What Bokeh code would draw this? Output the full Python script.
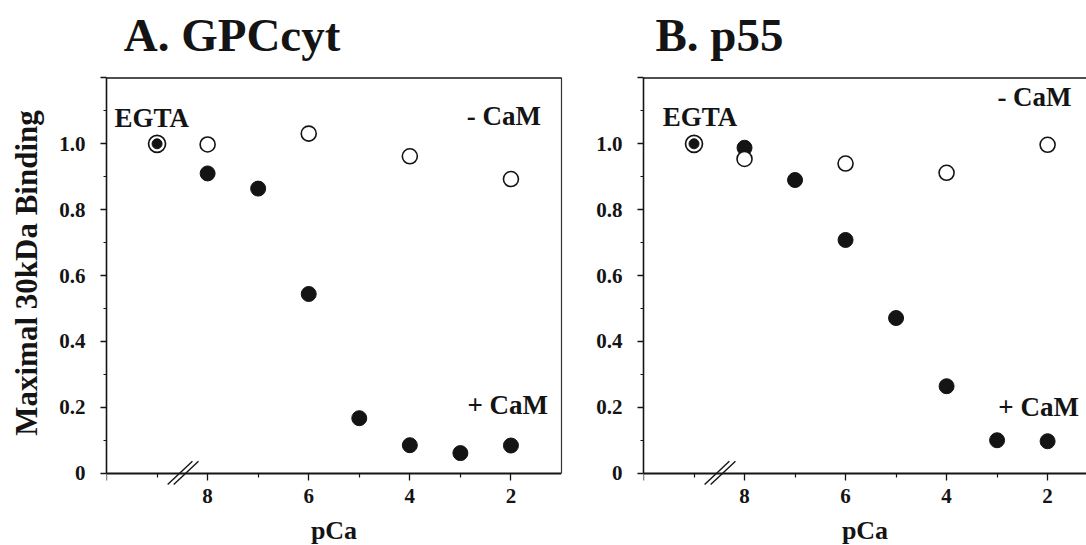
from bokeh.plotting import figure
from bokeh.layouts import row
from bokeh.models import (Range1d, FixedTicker, Label, LinearAxis, CustomJSTickFormatter)
from bokeh.embed import file_html
from bokeh.resources import INLINE

FONT = "Liberation Serif"
INK = "#141414"

# ---- data ----
x_ticks = [10, 8, 6, 4, 2]
x_tick_labels = ["", "8", "6", "4", "2"]
x_minor = [9, 7, 5, 3]
y_ticks = [0, 0.2, 0.4, 0.6, 0.8, 1.0, 1.2]
y_tick_labels = ["0", "0.2", "0.4", "0.6", "0.8", "1.0", ""]
y_minor = [0.1, 0.3, 0.5, 0.7, 0.9, 1.1]
y_top = 1.2

egta_x = [9]
a_egta = [1.0]
b_egta = [1.0]

pca_minus = [8, 6, 4, 2]
a_minus = [0.998, 1.031, 0.962, 0.893]
b_minus = [0.954, 0.94, 0.912, 0.997]

pca_plus = [8, 7, 6, 5, 4, 3, 2]
a_plus = [0.91, 0.864, 0.544, 0.167, 0.085, 0.061, 0.084]
b_plus = [0.988, 0.89, 0.708, 0.471, 0.264, 0.10, 0.097]

titles = ["A. GPCcyt", "B. p55"]
y_label = "Maximal 30kDa Binding"
x_label = "pCa"

# axis-break decoration (data coords)
BREAK_X0 = [8.79, 8.67]
BREAK_X1 = [8.30, 8.18]
BREAK_Y0 = [-0.034, -0.034]
BREAK_Y1 = [0.036, 0.036]

# visible window (frame covers the whole panel height)
Y_LO, Y_HI = -0.2195, 1.435


def fmt(vals, labs):
    return CustomJSTickFormatter(
        args=dict(tvals=vals, tlabs=labs),
        code="const i = tvals.findIndex(t => Math.abs(t - tick) < 1e-6); return i >= 0 ? tlabs[i] : '';",
    )


def panel(title, plus, minus, egta, x_end, fw, bl, br, ylab, title_x, right_border, lab_pos):
    p = figure(frame_width=fw, frame_height=545, x_range=Range1d(10, x_end),
               y_range=Range1d(Y_LO, Y_HI), output_backend="svg", toolbar_location=None,
               min_border_left=bl, min_border_right=br, min_border_top=0,
               min_border_bottom=0, background_fill_color="white",
               border_fill_color="white", outline_line_color=None)
    p.xgrid.visible = False
    p.ygrid.visible = False

    xa = p.xaxis[0]
    xa.fixed_location = 0
    xa.ticker = FixedTicker(ticks=x_ticks, minor_ticks=x_minor)
    xa.formatter = fmt(x_ticks, x_tick_labels)
    xa.axis_line_width = 2
    xa.axis_line_color = INK
    xa.major_tick_out = 7
    xa.major_tick_in = 0
    xa.minor_tick_out = 4
    xa.minor_tick_in = 0
    xa.major_tick_line_width = 1.3
    xa.minor_tick_line_width = 1.2
    xa.major_tick_line_color = INK
    xa.minor_tick_line_color = INK
    xa.major_label_standoff = 9
    xa.major_label_text_font = FONT
    xa.major_label_text_font_style = "bold"
    xa.major_label_text_font_size = "21px"
    xa.major_label_text_color = INK
    xa.axis_label = x_label
    xa.axis_label_text_font = FONT
    xa.axis_label_text_font_style = "bold"
    xa.axis_label_text_font_size = "26px"
    xa.axis_label_text_color = INK
    xa.axis_label_standoff = 9

    ya = p.yaxis[0]
    ya.bounds = (0, y_top)
    ya.ticker = FixedTicker(ticks=y_ticks, minor_ticks=y_minor)
    ya.formatter = fmt(y_ticks, y_tick_labels)
    ya.axis_line_width = 1.6
    ya.axis_line_color = INK
    ya.major_tick_out = 6
    ya.major_tick_in = 0
    ya.minor_tick_out = 3
    ya.minor_tick_in = 0
    ya.major_tick_line_width = 1.3
    ya.minor_tick_line_width = 1.2
    ya.major_tick_line_color = INK
    ya.minor_tick_line_color = INK
    ya.major_label_standoff = 15
    ya.major_label_text_font = FONT
    ya.major_label_text_font_style = "bold"
    ya.major_label_text_font_size = "21px"
    ya.major_label_text_color = INK
    if ylab:
        ya.axis_label = ylab
        ya.axis_label_text_font = FONT
        ya.axis_label_text_font_style = "bold"
        ya.axis_label_text_font_size = "31px"
        ya.axis_label_text_color = INK
        ya.axis_label_standoff = 12

    if right_border:
        rb = LinearAxis(bounds=(0, y_top), ticker=FixedTicker(ticks=[], minor_ticks=[]),
                        axis_line_color="#333333", axis_line_width=1.2,
                        major_tick_line_color=None, minor_tick_line_color=None)
        p.add_layout(rb, "right")

    # top frame line
    p.segment(x0=[10], y0=[y_top], x1=[x_end], y1=[y_top], line_color=INK, line_width=1.5)
    # axis break marks
    p.segment(x0=BREAK_X0, y0=BREAK_Y0, x1=BREAK_X1, y1=BREAK_Y1,
              line_color=INK, line_width=1.4)

    # +CaM (filled)
    p.scatter(pca_plus, plus, marker="circle", size=15, fill_color=INK, line_color=INK)
    # -CaM (open)
    p.scatter(pca_minus, minus, marker="circle", size=15, fill_color="white",
              line_color=INK, line_width=1.6)
    # EGTA (both conditions)
    p.scatter(egta_x, egta, marker="circle", size=17, fill_color="white",
              line_color=INK, line_width=1.7)
    p.scatter(egta_x, egta, marker="circle", size=10, fill_color=INK, line_color=INK)

    p.add_layout(Label(x=title_x, y=1.329, text=title, text_align="left",
                       text_baseline="middle", text_font=FONT, text_font_style="bold",
                       text_font_size="47px", text_color=INK))

    (ex, ey), (mx, my), (px, py) = lab_pos
    common = dict(text_font=FONT, text_font_style="bold", text_font_size="27px",
                  text_color=INK, text_baseline="middle")
    p.add_layout(Label(x=ex, y=ey, text="EGTA", text_align="left", **common))
    p.add_layout(Label(x=mx, y=my, text="- CaM", text_align="right", **common))
    p.add_layout(Label(x=px, y=py, text="+ CaM", text_align="right", **common))
    return p


pA = panel(titles[0], a_plus, a_minus, a_egta, 1.0, 455, 106, 19, y_label, 9.66, True,
           [(9.84, 1.078), (1.406, 1.083), (1.267, 0.208)])
pB = panel(titles[1], b_plus, b_minus, b_egta, 1.23, 443, 63, 0, None, 9.762, False,
           [(9.62, 1.08), (1.525, 1.142), (1.38, 0.202)])

layout = row(pA, pB)
open("out.html", "w").write(file_html(layout, INLINE))
